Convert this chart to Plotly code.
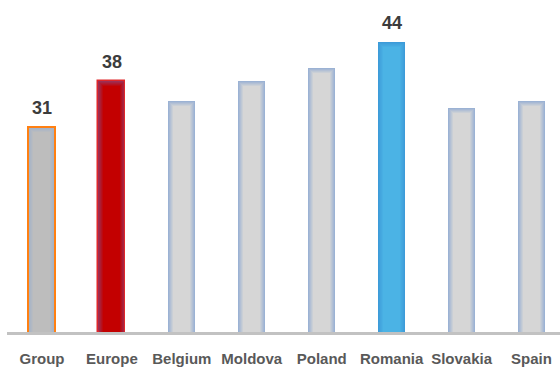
import plotly.graph_objects as go

# Chart data
categories = ["Group", "Europe", "Belgium", "Moldova", "Poland", "Romania", "Slovakia", "Spain"]
values = [31, 38, 35, 38, 40, 44, 34, 35]
labelled = ["Group", "Europe", "Romania"]

# Per-bar styling: (edge colour, centre colour, border colour or None)
styles = {
    "Group":    ("#9fb1cb", "#bdbdbd", "#ff8012"),
    "Europe":   ("#9c2f55", "#c30000", "#e0262a"),
    "Romania":  ("#3d9bd9", "#4bb3e5", None),
}
default_style = ("#9bb2d4", "#d6d6d6", None)

PX_PER_CAT = 70.0
PX_PER_UNIT = 6.67
BAR_PX = 27
LAYERS = 6


def mix(c1, c2, t):
    a = [int(c1[i:i + 2], 16) for i in (1, 3, 5)]
    b = [int(c2[i:i + 2], 16) for i in (1, 3, 5)]
    return "#" + "".join(f"{round(x + (y - x) * t):02x}" for x, y in zip(a, b))


fig = go.Figure()

# Each bar is built from a few nested layers that fade from the edge colour
# toward the centre colour, giving the soft inner glow.
for k in range(LAYERS):
    t = k / (LAYERS - 1)
    inset = k * 1.0
    widths, heights, colors, lines, lwidths = [], [], [], [], []
    for cat, v in zip(categories, values):
        edge, centre, border = styles.get(cat, default_style)
        widths.append((BAR_PX - 2 * inset) / PX_PER_CAT)
        heights.append(v - inset / PX_PER_UNIT)
        colors.append(mix(edge, centre, t))
        if k == 0 and border:
            lines.append(border)
            lwidths.append(2 if cat == "Group" else 1.5)
        else:
            lines.append("rgba(0,0,0,0)")
            lwidths.append(0)
    fig.add_trace(go.Bar(
        x=categories, y=heights, width=widths,
        marker=dict(color=colors, line=dict(color=lines, width=lwidths)),
        hoverinfo="skip", showlegend=False,
    ))

for cat, v in zip(categories, values):
    if cat in labelled:
        fig.add_annotation(
            x=cat, y=v, text=str(v), showarrow=False, yanchor="bottom", yshift=7,
            font=dict(family="Liberation Sans", size=18, color="#3c3c3c", weight="bold"),
        )

W, H = 560, 367
plot_left, plot_bottom = 6.5, 335.5
plot_w = W - plot_left
n_cats_visible = plot_w / PX_PER_CAT

fig.update_layout(
    width=W, height=H,
    margin=dict(l=plot_left, r=0, t=0, b=H - plot_bottom),
    barmode="overlay", bargap=0,
    plot_bgcolor="white", paper_bgcolor="white",
    xaxis=dict(
        range=[-0.5, -0.5 + n_cats_visible], showgrid=False, zeroline=False,
        showline=True, linecolor="#c2c2c2", linewidth=2.5,
        ticks="", ticklabelstandoff=11,
        tickfont=dict(family="Liberation Sans", size=15, color="#595959", weight="bold"),
    ),
    yaxis=dict(range=[0, plot_bottom / PX_PER_UNIT], visible=False),
)

fig.write_html("out.html")
